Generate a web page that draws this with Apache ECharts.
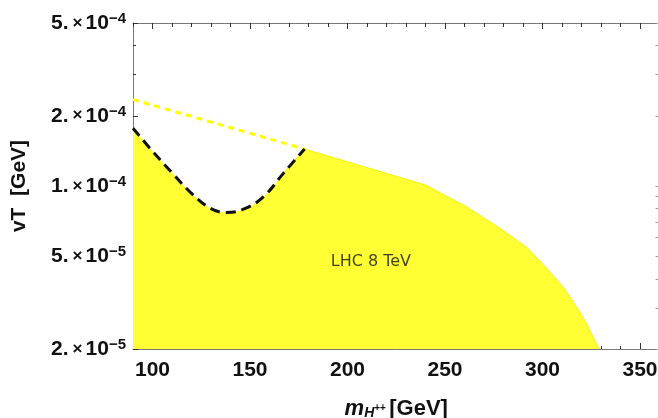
<!DOCTYPE html>
<html>
<head>
<meta charset="utf-8">
<script src="https://cdn.jsdelivr.net/npm/echarts@6/dist/echarts.min.js"></script>
<style>
  html, body { margin: 0; padding: 0; background: #fff; }
  #chart { width: 658px; height: 418px; }
</style>
</head>
<body>
<div id="chart"></div>
<script>
// Lower edge of the excluded region: the dip around 140 GeV (dashed black)
const dipMass = [90, 100, 110, 120, 130, 138, 147, 157, 167, 178];
const dipVT   = [1.77e-4, 1.41e-4, 1.14e-4, 9.3e-5, 8.0e-5, 7.7e-5, 7.97e-5, 9.0e-5, 1.13e-4, 1.44e-4];

// Upper edge of the excluded region for heavier masses
const edgeMass = [178, 240, 261, 278, 292, 302, 311, 319, 322, 329];
const edgeVT   = [1.44e-4, 1.01e-4, 8.15e-5, 6.6e-5, 5.45e-5, 4.45e-5, 3.65e-5, 2.89e-5, 2.62e-5, 2.0e-5];

// Straight continuation of the edge toward low masses (dashed yellow)
const extMass = [90, 178];
const extVT   = [2.35e-4, 1.44e-4];

// Tick positions
const xMajorTicks = [100, 150, 200, 250, 300, 350];
const xMinorTicks = [90, 100, 110, 120, 130, 140, 150, 160, 170, 180, 190, 200, 210, 220, 230,
                     240, 250, 260, 270, 280, 290, 300, 310, 320, 330, 340, 350, 360];
const yMajorTicks = [2e-5, 5e-5, 1e-4, 2e-4, 5e-4];
const yMinorTicks = [3e-5, 4e-5, 6e-5, 7e-5, 8e-5, 9e-5, 3e-4, 4e-4];

const regionText = 'LHC 8 TeV';

const zip = (xs, ys) => xs.map((x, i) => [x, ys[i]]);
const Y_MIN = yMajorTicks[0];
const Y_MAX = yMajorTicks[yMajorTicks.length - 1];
const LOG_MIN = Math.log10(Y_MIN);
const LOG_MAX = Math.log10(Y_MAX);
const log10 = v => Math.log10(v);

const FILL = '#ffff33';
const FRAME = '#777777';
const TICK = '#333333';
const FONT = '"Liberation Sans", Arial, sans-serif';

function sciLabel(logValue) {
  const v = Math.pow(10, logValue);
  const exp = Math.floor(logValue + 1e-9);
  const mant = Math.round(v / Math.pow(10, exp));
  return '{a|' + mant + '.}{x|×}{a|10}{s|\u2212' + (-exp) + '}';
}

// Overlay axes that only carry ticks / labels in log10 space
function tickAxis(extra) {
  return Object.assign({
    type: 'value',
    min: LOG_MIN,
    max: LOG_MAX,
    splitLine: { show: false },
    axisLine: { show: false },
    axisLabel: { show: false },
    axisTick: { show: false }
  }, extra);
}

const chart = echarts.init(document.getElementById('chart'), null, { renderer: 'canvas' });

chart.setOption({
  animation: false,
  backgroundColor: '#ffffff',
  grid: { left: 133, top: 23, width: 526.5, height: 326, containLabel: false, outerBoundsMode: 'none' },
  xAxis: [
    {
      type: 'value', min: 90, max: 360, position: 'bottom',
      splitLine: { show: false },
      axisLine: { show: true, lineStyle: { color: FRAME, width: 1 } },
      axisTick: { show: true, inside: true, length: 6, customValues: xMajorTicks, lineStyle: { color: TICK } },
      axisLabel: {
        show: true, customValues: xMajorTicks, margin: 11,
        color: '#111', fontSize: 21, fontWeight: 'bold', fontFamily: FONT
      },
      name: '{m|m}{h|H}{p|++} {g|[GeV]}',
      nameLocation: 'middle',
      nameGap: 49,
      nameTextStyle: {
        rich: {
          m: { fontSize: 22, fontWeight: 'bold', fontStyle: 'italic', fontFamily: FONT, color: '#111' },
          h: { fontSize: 14, fontWeight: 'bold', fontStyle: 'italic', fontFamily: FONT, color: '#111', padding: [8, 0, 0, 0] },
          p: { fontSize: 10, fontWeight: 'bold', fontFamily: FONT, color: '#111', padding: [0, 0, 2, 0] },
          g: { fontSize: 22, fontWeight: 'bold', fontFamily: FONT, color: '#111' }
        }
      }
    },
    {
      type: 'value', min: 90, max: 360, position: 'bottom',
      splitLine: { show: false }, axisLine: { show: false }, axisLabel: { show: false },
      axisTick: { show: true, inside: true, length: 3, customValues: xMinorTicks, lineStyle: { color: TICK } }
    },
    {
      type: 'value', min: 90, max: 360, position: 'top',
      splitLine: { show: false }, axisLabel: { show: false },
      axisLine: { show: true, lineStyle: { color: FRAME, width: 1 } },
      axisTick: { show: true, inside: true, length: 6, customValues: xMajorTicks, lineStyle: { color: TICK } }
    },
    {
      type: 'value', min: 90, max: 360, position: 'top',
      splitLine: { show: false }, axisLine: { show: false }, axisLabel: { show: false },
      axisTick: { show: true, inside: true, length: 4, customValues: xMinorTicks, lineStyle: { color: TICK } }
    }
  ],
  yAxis: [
    {
      // data axis: logarithmic vT
      type: 'log', logBase: 10, min: Y_MIN, max: Y_MAX, position: 'left',
      splitLine: { show: false }, axisLine: { show: false },
      axisLabel: { show: false }, axisTick: { show: false }
    },
    tickAxis({
      position: 'left',
      axisLine: { show: true, lineStyle: { color: FRAME, width: 1 } },
      axisTick: { show: true, inside: true, length: 5, customValues: yMajorTicks.map(log10), lineStyle: { color: TICK } },
      axisLabel: {
        show: true, customValues: yMajorTicks.map(log10), margin: 7,
        formatter: sciLabel,
        rich: {
          a: { fontSize: 21, fontWeight: 'bold', fontFamily: FONT, color: '#111' },
          x: { fontSize: 17, fontWeight: 'bold', fontFamily: FONT, color: '#111', padding: [0, 3, 0, 4] },
          s: { fontSize: 15, fontWeight: 'bold', fontFamily: FONT, color: '#111', padding: [0, 0, 8, 0] }
        }
      },
      name: 'vT  [GeV]',
      nameLocation: 'middle',
      nameGap: 103,
      nameTextStyle: { fontSize: 21, fontWeight: 'bold', fontFamily: FONT, color: '#111' }
    }),
    tickAxis({
      position: 'left',
      axisTick: { show: true, inside: true, length: 3, customValues: yMinorTicks.map(log10), lineStyle: { color: TICK } }
    }),
    tickAxis({
      position: 'right',
      axisTick: { show: true, inside: true, length: 4,
                  customValues: yMajorTicks.concat(yMinorTicks).map(log10), lineStyle: { color: '#999' } }
    })
  ],
  series: [
    {
      // excluded region below the dip curve
      type: 'line', xAxisIndex: 0, yAxisIndex: 0,
      data: zip(dipMass, dipVT),
      smooth: 0.4,
      symbol: 'none',
      lineStyle: { width: 0 },
      areaStyle: { color: FILL, opacity: 1, origin: 'start' },
      z: 1
    },
    {
      // excluded region for heavier masses
      type: 'line', xAxisIndex: 0, yAxisIndex: 0,
      data: [[dipMass[dipMass.length - 2], dipVT[dipVT.length - 2]]].concat(zip(edgeMass, edgeVT)),
      symbol: 'none',
      lineStyle: { width: 1, color: '#f6f200' },
      areaStyle: { color: FILL, opacity: 1, origin: 'start' },
      z: 1
    },
    {
      type: 'line', xAxisIndex: 0, yAxisIndex: 0,
      data: zip(extMass, extVT),
      symbol: 'none',
      lineStyle: { color: '#ffff00', width: 3, type: [6, 5] },
      z: 3
    },
    {
      type: 'line', xAxisIndex: 0, yAxisIndex: 0,
      data: zip(dipMass, dipVT),
      smooth: 0.4,
      symbol: 'none',
      lineStyle: { color: '#111111', width: 3, type: [10, 6] },
      z: 4
    },
    {
      type: 'scatter', xAxisIndex: 0, yAxisIndex: 0,
      data: [[212, 4.72e-5]],
      symbolSize: 0,
      silent: true,
      label: {
        show: true, position: 'inside', formatter: regionText,
        fontSize: 16, fontFamily: '"DejaVu Sans", sans-serif', color: '#111'
      },
      z: 5
    }
  ]
});
</script>
</body>
</html>
